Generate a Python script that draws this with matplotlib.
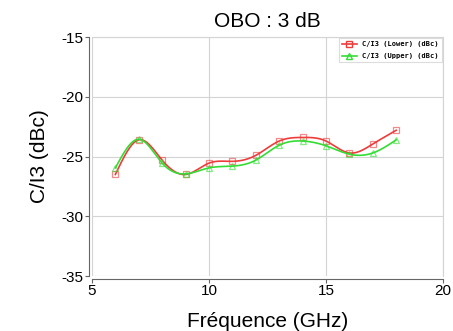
import numpy as np
import matplotlib
matplotlib.use("Agg")
from matplotlib import pyplot as plt

freq = [6, 7, 8, 9, 10, 11, 12, 13, 14, 15, 16, 17, 18]
ci3_lower = [-26.5, -23.6, -25.3, -26.5, -25.55, -25.4, -24.9, -23.7, -23.4, -23.7, -24.7, -23.95, -22.8]
ci3_upper = [-25.95, -23.55, -25.55, -26.45, -25.95, -25.8, -25.3, -24.05, -23.7, -24.1, -24.8, -24.7, -23.6]
xticks = [5, 10, 15, 20]
yticks = [-35, -30, -25, -20, -15]


def spline(x, y, n=400):
    # natural cubic spline, only used to draw the smooth line between points
    x = np.asarray(x, float); y = np.asarray(y, float)
    k = len(x); h = np.diff(x)
    A = np.zeros((k, k)); b = np.zeros(k)
    A[0, 0] = A[-1, -1] = 1
    for i in range(1, k - 1):
        A[i, i - 1] = h[i - 1]; A[i, i] = 2 * (h[i - 1] + h[i]); A[i, i + 1] = h[i]
        b[i] = 3 * ((y[i + 1] - y[i]) / h[i] - (y[i] - y[i - 1]) / h[i - 1])
    c = np.linalg.solve(A, b)
    xs = np.linspace(x[0], x[-1], n)
    j = np.clip(np.searchsorted(x, xs) - 1, 0, k - 2)
    t = xs - x[j]
    bb = (y[j + 1] - y[j]) / h[j] - h[j] * (2 * c[j] + c[j + 1]) / 3
    d = (c[j + 1] - c[j]) / (3 * h[j])
    return xs, y[j] + bb * t + c[j] * t ** 2 + d * t ** 3


plt.rcParams['font.family'] = ['Liberation Sans', 'DejaVu Sans']
plt.rcParams['axes.unicode_minus'] = False
fig = plt.figure(figsize=(4.53, 3.31), dpi=100)
ax = fig.add_axes([0.203, 0.166, 0.775, 0.722])

red, green = '#ee3b3b', '#33dd33'
for y, col, mk, lab in [(ci3_lower, red, 's', 'C/I3 (Lower) (dBc)'),
                        (ci3_upper, green, '^', 'C/I3 (Upper) (dBc)')]:
    xs, ys = spline(freq, y)
    ax.plot(xs, ys, color=col, lw=1.2)
    ax.plot(freq, y, ls='none', marker=mk, ms=5, mfc='none', mec=col, alpha=0.6, mew=0.9)
    ax.plot([], [], color=col, lw=1.2, marker=mk, ms=5, mfc='none', mec=col, label=lab)

ax.set_xlim(5, 20)
ax.set_ylim(-35, -15)
ax.set_xticks(xticks)
ax.set_yticks(yticks)
ax.grid(True, color='#d4d4d4', lw=0.8)
ax.set_axisbelow(True)
for s in ['top', 'right']:
    ax.spines[s].set_color('#d4d4d4')
for s in ['left', 'bottom']:
    ax.spines[s].set_color('#666666')
    ax.spines[s].set_position(('outward', 2))
ax.tick_params(labelsize=11, length=3, color='#666666', pad=1)

ax.set_title('OBO : 3 dB', fontsize=15, pad=7)
ax.set_xlabel('Fréquence (GHz)', fontsize=15, labelpad=10)
ax.set_ylabel('C/I3 (dBc)', fontsize=15, labelpad=9)

leg = ax.legend(loc='upper right', prop={'family': 'DejaVu Sans Mono', 'weight': 'bold', 'size': 5},
                frameon=True, fancybox=False, edgecolor='#d4d4d4', handlelength=2.2,
                borderaxespad=0.2, labelspacing=0.9)
leg.get_frame().set_linewidth(0.8)

fig.savefig('out.png', dpi=100)
